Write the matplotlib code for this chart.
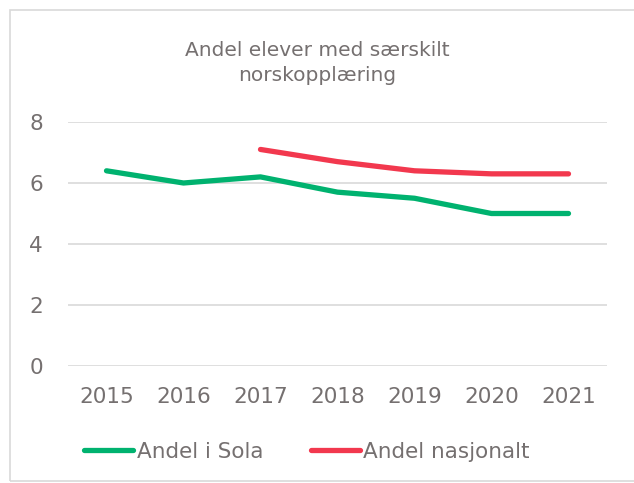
import matplotlib
matplotlib.use("Agg")
import matplotlib.pyplot as plt
from matplotlib.patches import Rectangle
import numpy as np

years = ["2015", "2016", "2017", "2018", "2019", "2020", "2021"]
sola = [6.4, 6.0, 6.2, 5.7, 5.5, 5.0, 5.0]
nasjonalt = [np.nan, np.nan, 7.1, 6.7, 6.4, 6.3, 6.3]
yticks = [0, 2, 4, 6, 8]
title = "Andel elever med særskilt\nnorskopplæring"

txt = "#757070"
green = "#00B26F"
red = "#F2384E"

plt.rcParams['font.family'] = ['DejaVu Sans']
fig = plt.figure(figsize=(6.34, 4.83), dpi=100)
fig.patches.append(Rectangle((10/634, 0.005), 1.2, 1 - 10/483 - 0.005, transform=fig.transFigure,
                             fill=False, edgecolor="#D9D9D9", linewidth=1.2))
ax = fig.add_axes([68/634, 1 - 366/483, (607 - 68)/634, (366 - 122)/483])
x = np.arange(len(years))
ax.plot(x, sola, color=green, lw=3.8, solid_capstyle='round', solid_joinstyle='round', label="Andel i Sola")
ax.plot(x, nasjonalt, color=red, lw=3.8, solid_capstyle='round', solid_joinstyle='round', label="Andel nasjonalt")
ax.set_xlim(-0.5, len(years) - 0.5)
ax.set_ylim(0, 8)
ax.set_yticks(yticks)
ax.set_xticks(x)
ax.set_xticklabels(years)
ax.yaxis.grid(True, color="#D9D9D9", lw=1.2)
ax.set_axisbelow(True)
for s in ax.spines.values():
    s.set_visible(False)
ax.tick_params(axis='both', length=0, labelsize=15.5, labelcolor=txt)
ax.tick_params(axis='x', pad=15)
ax.tick_params(axis='y', pad=18)
fig.text(0.5, 1 - 63/483, title, ha='center', va='center', fontsize=14.5, color=txt, linespacing=1.45)
leg = fig.legend(loc='center', bbox_to_anchor=(0.484, 1 - 452/483), ncol=2, frameon=False,
                 fontsize=15.5, handlelength=2.3, handletextpad=0.15, columnspacing=2.2)
for t in leg.get_texts():
    t.set_color(txt)
fig.savefig("out.png", dpi=100, facecolor="white")
